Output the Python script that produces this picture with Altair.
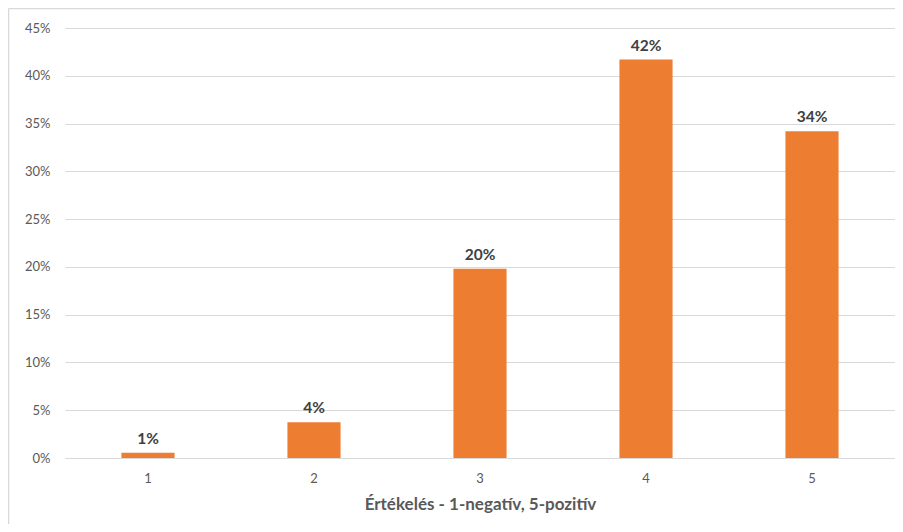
import altair as alt
import pandas as pd

categories = ["1", "2", "3", "4", "5"]
values = [0.0055, 0.0375, 0.198, 0.417, 0.342]

df = pd.DataFrame({"cat": categories, "val": values})

FONT = "Lato"

base = alt.Chart(df).encode(
    x=alt.X("cat:N", sort=categories,
            scale=alt.Scale(paddingInner=0.68, paddingOuter=0.34),
            axis=alt.Axis(title="Értékelés - 1-negatív, 5-pozitív", labelAngle=0,
                          ticks=False, domain=True, domainColor="#d9d9d9", grid=False,
                          labelColor="#595959", labelFontSize=13, labelFont=FONT,
                          labelPadding=14, titleFont=FONT, titleFontSize=17,
                          titleFontWeight="bold", titleColor="#595959",
                          titlePadding=11)),
    y=alt.Y("val:Q", scale=alt.Scale(domain=[0, 0.45], nice=False),
            axis=alt.Axis(title=None, format=".0%",
                          values=[0, 0.05, 0.1, 0.15, 0.2, 0.25, 0.3, 0.35, 0.4, 0.45],
                          ticks=False, domain=False, grid=True, gridColor="#d9d9d9",
                          labelColor="#595959", labelFontSize=13, labelFont=FONT,
                          labelPadding=15)),
)

bars = base.mark_bar(color="#ED7D31")
labels = base.mark_text(dy=-14, fontSize=15.5, fontWeight="bold", color="#404040",
                        font=FONT).encode(text=alt.Text("val:Q", format=".0%"))

one = pd.DataFrame({"a": [0]})
border_left = alt.Chart(one).mark_rule(color="#d9d9d9", strokeWidth=1.5).encode(
    x=alt.value(-56.5), y=alt.value(-19.5), y2=alt.value(560))
border_top = alt.Chart(one).mark_rule(color="#d9d9d9", strokeWidth=1.5).encode(
    x=alt.value(-56.5), x2=alt.value(900), y=alt.value(-19.5))

chart = alt.layer(border_left, border_top, bars, labels).properties(
    width=830, height=430,
    autosize=alt.AutoSizeParams(type="none"),
    padding={"left": 57, "top": 20, "right": 0, "bottom": 66},
).configure_view(stroke=None)

chart.save("out.html", embed_options={"renderer": "svg", "actions": False})
